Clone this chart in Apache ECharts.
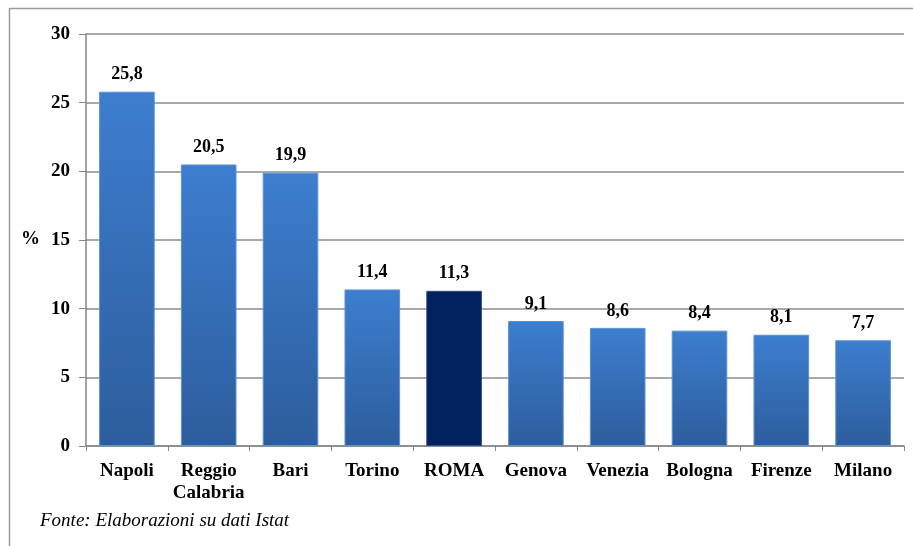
<!DOCTYPE html>
<html><head><meta charset="utf-8">
<script src="https://cdn.jsdelivr.net/npm/echarts@6/dist/echarts.min.js"></script>
<style>html,body{margin:0;padding:0;background:#fff}#c{width:913px;height:546px}</style>
</head><body><div id="c"></div>
<script>
const categories = ['Napoli','Reggio\nCalabria','Bari','Torino','ROMA','Genova','Venezia','Bologna','Firenze','Milano'];
const values = [25.8,20.5,19.9,11.4,11.3,9.1,8.6,8.4,8.1,7.7];
const highlight = 'ROMA';
const yTicks = {min:0,max:30,interval:5};

const blueGrad = new echarts.graphic.LinearGradient(0,0,0,1,[{offset:0,color:'#3d7ecf'},{offset:1,color:'#2d5d9c'}]);
const chart = echarts.init(document.getElementById('c'));
chart.setOption({
  animation:false,
  grid:{left:86,right:9,top:34,bottom:100,containLabel:false},
  graphic:[
    {type:'line',shape:{x1:9,y1:8.5,x2:913,y2:8.5},style:{stroke:'#9a9a9a',lineWidth:1.5}},
    {type:'line',shape:{x1:9.5,y1:8,x2:9.5,y2:546},style:{stroke:'#9a9a9a',lineWidth:1.5}},
    {type:'text',left:21,top:230,style:{text:'%',font:'bold 19px "Liberation Serif"',fill:'#000'}},
    {type:'text',left:40,top:511,style:{text:'Fonte: Elaborazioni su dati Istat',font:'italic 19px "Liberation Serif"',fill:'#000'}}
  ],
  xAxis:{type:'category',data:categories,
    axisLine:{lineStyle:{color:'#868686',width:1.5}},
    axisTick:{show:true,length:5,lineStyle:{color:'#868686'}},
    axisLabel:{color:'#000',fontFamily:'Liberation Serif',fontWeight:'bold',fontSize:19,margin:14,lineHeight:22,interval:0}},
  yAxis:{type:'value',min:yTicks.min,max:yTicks.max,interval:yTicks.interval,
    axisLine:{show:true,lineStyle:{color:'#868686',width:1.5}},
    axisTick:{show:true,length:7,lineStyle:{color:'#868686'}},
    splitLine:{lineStyle:{color:'#8c8c8c',width:1.5}},
    axisLabel:{color:'#000',fontFamily:'Liberation Serif',fontWeight:'bold',fontSize:19,margin:16}},
  series:[{type:'bar',barCategoryGap:'32%',
    data:values.map((v,i)=>({value:v,itemStyle:categories[i]===highlight?{color:'#00215e',borderColor:'#2a4f8a',borderWidth:1}:{color:blueGrad,borderColor:'#5b93d6',borderWidth:1}})),
    label:{show:true,position:'top',distance:8,color:'#000',fontFamily:'Liberation Serif',fontWeight:'bold',fontSize:18,
      formatter:p=>String(p.value).replace('.',',')}}]
});
</script></body></html>
